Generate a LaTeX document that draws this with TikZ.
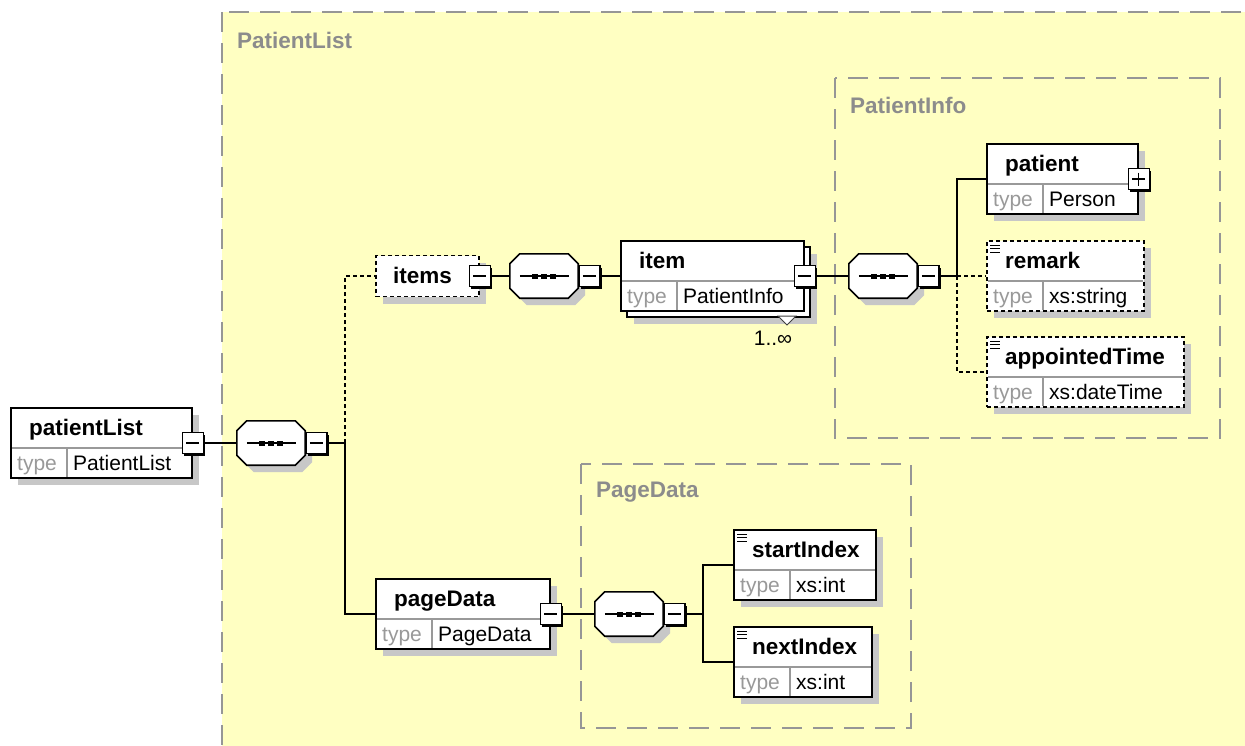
\documentclass[tikz,border=0pt]{standalone}
\usepackage{fontspec}
\setmainfont{Liberation Sans}
\usetikzlibrary{shadows}
\definecolor{grpfill}{RGB}{255,255,194}
\definecolor{grpline}{RGB}{150,150,150}
\definecolor{grptext}{RGB}{140,140,140}

\begin{document}
\begin{tikzpicture}[x=1pt,y=-1pt,
  grp/.style={draw=grpline, line width=2pt, dash pattern=on 20pt off 11pt, fill=grpfill},
  grplbl/.style={anchor=west, inner sep=0pt, text=grptext, font=\fontsize{22.5}{26}\selectfont\bfseries},
  elem/.style={draw, line width=1.6pt, fill=white, inner sep=0pt,
    drop shadow={shadow xshift=7pt, shadow yshift=-7pt, fill=black!22, opacity=1}},
  optelem/.style={elem, dash pattern=on 4pt off 3pt},
  elemfront/.style={draw, line width=1.6pt, fill=white, inner sep=0pt},
  rowline/.style={draw=black!40, line width=1.2pt},
  elemname/.style={anchor=base west, inner sep=0pt, font=\fontsize{22.5}{26}\selectfont\bfseries},
  typelbl/.style={anchor=base west, inner sep=0pt, text=black!40, font=\fontsize{21}{24}\selectfont},
  typeval/.style={anchor=base west, inner sep=0pt, font=\fontsize{21}{24}\selectfont},
  mbox/.style={draw, fill=white, line width=1.3pt, minimum size=21pt, inner sep=0pt,
    drop shadow={shadow xshift=2pt, shadow yshift=-2pt, fill=black, opacity=1},
    path picture={\draw[black, line width=1.1pt] ([xshift=4pt]path picture bounding box.west) -- ([xshift=-4pt]path picture bounding box.east);}},
  pbox/.style={draw, fill=white, line width=1.3pt, minimum size=21pt, inner sep=0pt,
    drop shadow={shadow xshift=2pt, shadow yshift=-2pt, fill=black, opacity=1},
    path picture={\draw[black, line width=1.1pt] ([xshift=4pt]path picture bounding box.west) -- ([xshift=-4pt]path picture bounding box.east);
      \draw[black, line width=1.1pt] ([yshift=-4pt]path picture bounding box.north) -- ([yshift=4pt]path picture bounding box.south);}},
  seq/.style={minimum width=68pt, minimum height=44pt, inner sep=0pt,
    append after command={\pgfextra{
      \draw[line width=1.6pt, fill=white, drop shadow={shadow xshift=7pt, shadow yshift=-7pt, fill=black!22, opacity=1}]
        ([xshift=10pt]\tikzlastnode.north west) -- ([xshift=-10pt]\tikzlastnode.north east)
        -- ([yshift=-10pt]\tikzlastnode.north east) -- ([yshift=10pt]\tikzlastnode.south east)
        -- ([xshift=-10pt]\tikzlastnode.south east) -- ([xshift=10pt]\tikzlastnode.south west)
        -- ([yshift=10pt]\tikzlastnode.south west) -- ([yshift=-10pt]\tikzlastnode.north west) -- cycle;
      \draw[line width=1.2pt] ([xshift=10pt]\tikzlastnode.west) -- ([xshift=-9pt]\tikzlastnode.east);
      \foreach \d in {-9,0,9}
        \fill ([xshift={(\d-3)*1pt}, yshift=-2.5pt]\tikzlastnode.center) rectangle ([xshift={(\d+3)*1pt}, yshift=2.5pt]\tikzlastnode.center);
    }}},
  conn/.style={line width=1.6pt},
  optconn/.style={conn, dash pattern=on 4pt off 3pt},
  facet/.style={line width=0.9pt}
]
\useasboundingbox (0,0) rectangle (1245,745);
\clip (0,0) rectangle (1245,745);
\fill[white] (0,0) rectangle (1245,745);
% Groups
\draw[grp] (222,12) rectangle (1265,765);
\node[grplbl] (PatientList-lbl) at (237,40) {PatientList};
\draw[grp] (835,78) rectangle (1220,438);
\node[grplbl] (PatientInfo-lbl) at (850,105) {PatientInfo};
\draw[grp] (581,464) rectangle (911,728);
\node[grplbl] (PageData-lbl) at (596,492) {PageData};
% patientList
\node[elem, minimum width=181pt, minimum height=70pt] (patientList) at (101.5,443) {};
\draw[rowline] (12,448) -- (191,448);
\draw[rowline] (67,448) -- (67,477);
\node[elemname] (patientList-name) at (29,435) {patientList};
\node[typelbl] (patientList-t) at (17,470.5) {type};
\node[typeval] (patientList-v) at (73,470.5) {PatientList};
\node[mbox] (patientList-m) at (patientList.east) {};
% Sequence of PatientList
\node[seq] (seq1) at (271,443) {};
\node[mbox, anchor=west] (seq1-m) at (seq1.east) {};
\coordinate (fork1) at (345,443);
% items
\node[optelem, minimum width=103pt, minimum height=41pt] (items) at (427.5,276) {};
\node[elemname] (items-name) at (393,283) {items};
\node[mbox] (items-m) at (items.east) {};
\node[seq] (seq2) at (544,276) {};
\node[mbox, anchor=west] (seq2-m) at (seq2.east) {};
% item (1..unbounded)
\node[elem, minimum width=183pt, minimum height=70pt] (item-back) at (718.5,282) {};
\node[elemfront, minimum width=183pt, minimum height=70pt] (item) at (712.5,276) {};
\draw[rowline] (622,281) -- (803,281);
\draw[rowline] (677,281) -- (677,310);
\node[elemname] (item-name) at (639,268) {item};
\node[typelbl] (item-t) at (627,303.5) {type};
\node[typeval] (item-v) at (683,303.5) {PatientInfo};
\node[mbox] (item-m) at (item.east) {};
\filldraw[fill=white, draw=black!75, line width=1pt] (778,316) -- (796,316) -- (787,325) -- cycle;
\node[typeval, anchor=center] (item-occ) at (773,338) {1..∞};
% Sequence of PatientInfo
\node[seq] (seq3) at (883,276) {};
\node[mbox, anchor=west] (seq3-m) at (seq3.east) {};
\coordinate (fork2) at (957,276);
% patient
\node[elem, minimum width=151pt, minimum height=70pt] (patient) at (1062.5,179) {};
\draw[rowline] (988,184) -- (1137,184);
\draw[rowline] (1043,184) -- (1043,213);
\node[elemname] (patient-name) at (1005,171) {patient};
\node[typelbl] (patient-t) at (993,206.5) {type};
\node[typeval] (patient-v) at (1049,206.5) {Person};
\node[pbox] (patient-p) at (patient.east) {};
% remark
\node[optelem, minimum width=157pt, minimum height=70pt] (remark) at (1065.5,276) {};
\draw[rowline] (988,281) -- (1143,281);
\draw[rowline] (1043,281) -- (1043,310);
\foreach \k in {245,248.5,252} \draw[facet] (990,\k) -- (1000,\k);
\node[elemname] (remark-name) at (1005,268) {remark};
\node[typelbl] (remark-t) at (993,303.5) {type};
\node[typeval] (remark-v) at (1049,303.5) {xs:string};
% appointedTime
\node[optelem, minimum width=197pt, minimum height=70pt] (appointedTime) at (1085.5,372) {};
\draw[rowline] (988,377) -- (1183,377);
\draw[rowline] (1043,377) -- (1043,406);
\foreach \k in {341,344.5,348} \draw[facet] (990,\k) -- (1000,\k);
\node[elemname] (appointedTime-name) at (1005,364) {appointedTime};
\node[typelbl] (appointedTime-t) at (993,399.5) {type};
\node[typeval] (appointedTime-v) at (1049,399.5) {xs:dateTime};
% pageData
\node[elem, minimum width=174pt, minimum height=70pt] (pageData) at (463,614) {};
\draw[rowline] (377,619) -- (549,619);
\draw[rowline] (432,619) -- (432,648);
\node[elemname] (pageData-name) at (394,606) {pageData};
\node[typelbl] (pageData-t) at (382,641.5) {type};
\node[typeval] (pageData-v) at (438,641.5) {PageData};
\node[mbox] (pageData-m) at (pageData.east) {};
% Sequence of PageData
\node[seq] (seq4) at (629,614) {};
\node[mbox, anchor=west] (seq4-m) at (seq4.east) {};
\coordinate (fork3) at (703,614);
% startIndex
\node[elem, minimum width=142pt, minimum height=70pt] (startIndex) at (805,565) {};
\draw[rowline] (735,570) -- (875,570);
\draw[rowline] (790,570) -- (790,599);
\foreach \k in {534,537.5,541} \draw[facet] (737,\k) -- (747,\k);
\node[elemname] (startIndex-name) at (752,557) {startIndex};
\node[typelbl] (startIndex-t) at (740,592.5) {type};
\node[typeval] (startIndex-v) at (796,592.5) {xs:int};
% nextIndex
\node[elem, minimum width=138pt, minimum height=70pt] (nextIndex) at (803,662) {};
\draw[rowline] (735,667) -- (871,667);
\draw[rowline] (790,667) -- (790,696);
\foreach \k in {631,634.5,638} \draw[facet] (737,\k) -- (747,\k);
\node[elemname] (nextIndex-name) at (752,654) {nextIndex};
\node[typelbl] (nextIndex-t) at (740,689.5) {type};
\node[typeval] (nextIndex-v) at (796,689.5) {xs:int};
% Connectors
\draw[conn] (patientList-m) -- (seq1);
\draw[conn] (seq1-m) -- (fork1);
\draw[optconn] (fork1) |- (items);
\draw[conn] (fork1) |- (pageData);
\draw[conn] (items-m) -- (seq2);
\draw[conn] (seq2-m) -- (item);
\draw[conn] (item-m) -- (seq3);
\draw[conn] (seq3-m) -- (fork2);
\draw[conn] (fork2) |- (patient);
\draw[optconn] (fork2) -- (remark);
\draw[optconn] (fork2) |- (appointedTime);
\draw[conn] (pageData-m) -- (seq4);
\draw[conn] (seq4-m) -- (fork3);
\draw[conn] (fork3) |- (startIndex);
\draw[conn] (fork3) |- (nextIndex);
\end{tikzpicture}
\end{document}
